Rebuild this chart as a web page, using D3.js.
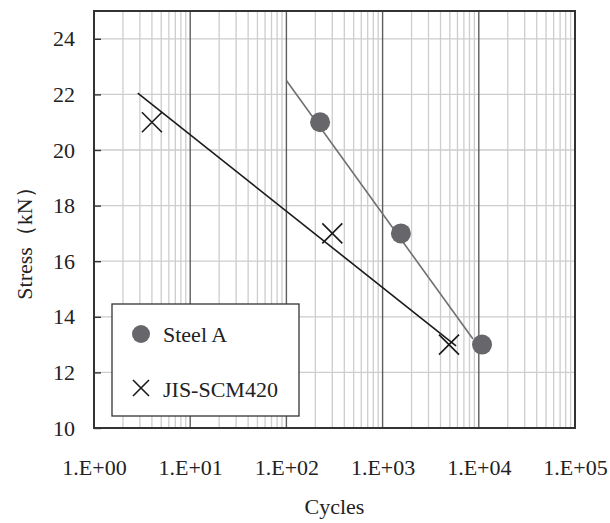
<!DOCTYPE html>
<html>
<head>
<meta charset="utf-8">
<script src="https://cdn.jsdelivr.net/npm/d3@7/dist/d3.min.js"></script>
<style>
  html, body { margin: 0; padding: 0; background: #fff; }
  svg text { font-family: "Liberation Serif", "Times New Roman", serif !important; }
</style>
</head>
<body>
<svg id="chart" width="610" height="523"></svg>
<script>
// S-N data (cycles to failure vs. applied stress)
const steelCycles = [224, 1550, 10800];
const steelStress = [21, 17, 13];
const scmCycles = [4, 300, 4900];
const scmStress = [21, 17, 13];

// Logarithmic trend lines (end points of each fit)
const steelFitCycles = [100, 8700];
const steelFitStress = [22.5, 13.2];
const scmFitCycles = [2.85, 5800];
const scmFitStress = [22.05, 12.95];

const xTickValues = [1, 10, 100, 1000, 10000, 100000];
const xTickLabels = ["1.E+00", "1.E+01", "1.E+02", "1.E+03", "1.E+04", "1.E+05"];
const yTickValues = [10, 12, 14, 16, 18, 20, 22, 24];

const seriesNames = ["Steel A", "JIS-SCM420"];

const margin = { left: 94, top: 11, right: 35, bottom: 95 };
const W = 610, H = 523;
const pw = W - margin.left - margin.right;
const ph = H - margin.top - margin.bottom;
const FS = 22;

const svg = d3.select("#chart");
const g = svg.append("g").attr("transform", `translate(${margin.left},${margin.top})`);

const x = d3.scaleLog().domain([1, 1e5]).range([0, pw]);
const y = d3.scaleLinear().domain([10, 25]).range([ph, 0]);

// minor vertical grid (2..9 within each decade)
const minor = [];
for (let d = 0; d < 5; d++) for (let k = 2; k <= 9; k++) minor.push(k * Math.pow(10, d));
g.append("g").selectAll("line").data(minor).join("line")
  .attr("x1", d => x(d)).attr("x2", d => x(d))
  .attr("y1", 0).attr("y2", ph)
  .attr("stroke", "#cdcdcd").attr("stroke-width", 1.3);

// horizontal grid
g.append("g").selectAll("line").data(yTickValues.filter(v => v > 10)).join("line")
  .attr("x1", 0).attr("x2", pw)
  .attr("y1", d => y(d)).attr("y2", d => y(d))
  .attr("stroke", "#cdcdcd").attr("stroke-width", 1.3);

// major vertical grid at decades
g.append("g").selectAll("line").data(xTickValues.slice(1, -1)).join("line")
  .attr("x1", d => x(d)).attr("x2", d => x(d))
  .attr("y1", 0).attr("y2", ph)
  .attr("stroke", "#5e5e5e").attr("stroke-width", 1.4);

// y axis with inward ticks
const yAxis = d3.axisLeft(y).tickValues(yTickValues).tickSize(-7).tickPadding(19).tickFormat(d3.format("d"));
const ya = g.append("g").call(yAxis);
ya.select(".domain").remove();
ya.selectAll(".tick line").attr("stroke", "#333").attr("stroke-width", 1.4);
ya.selectAll(".tick text").attr("font-size", FS).attr("fill", "#222");

// x axis labels (no tick marks)
const xAxis = d3.axisBottom(x).tickValues(xTickValues).tickSize(0).tickPadding(31)
  .tickFormat((d, i) => xTickLabels[i]);
const xa = g.append("g").attr("transform", `translate(0,${ph})`).call(xAxis);
xa.select(".domain").remove();
xa.selectAll(".tick text").attr("font-size", FS).attr("fill", "#222");

// plot frame
g.append("rect").attr("x", 0).attr("y", 0).attr("width", pw).attr("height", ph)
  .attr("fill", "none").attr("stroke", "#333").attr("stroke-width", 2);

// trend lines
const line = d3.line().x(d => x(d[0])).y(d => y(d[1]));
g.append("path").datum(steelFitCycles.map((c, i) => [c, steelFitStress[i]]))
  .attr("d", line).attr("fill", "none").attr("stroke", "#707070").attr("stroke-width", 1.6);
g.append("path").datum(scmFitCycles.map((c, i) => [c, scmFitStress[i]]))
  .attr("d", line).attr("fill", "none").attr("stroke", "#1a1a1a").attr("stroke-width", 1.6);

// markers
g.append("g").selectAll("circle").data(steelCycles.map((c, i) => [c, steelStress[i]])).join("circle")
  .attr("cx", d => x(d[0])).attr("cy", d => y(d[1])).attr("r", 10)
  .attr("fill", "#67676b");

const cross = (sel, s) => sel.append("path")
  .attr("d", `M${-s},${-s}L${s},${s}M${-s},${s}L${s},${-s}`)
  .attr("stroke", "#1a1a1a").attr("stroke-width", 1.6).attr("fill", "none");

g.append("g").selectAll("g").data(scmCycles.map((c, i) => [c, scmStress[i]])).join("g")
  .attr("transform", d => `translate(${x(d[0])},${y(d[1])})`)
  .each(function () { cross(d3.select(this), 10); });

// legend
const lg = svg.append("g").attr("transform", "translate(112,304)");
lg.append("rect").attr("width", 187).attr("height", 112)
  .attr("fill", "#fff").attr("stroke", "#333").attr("stroke-width", 1.3);
lg.append("circle").attr("cx", 29).attr("cy", 30).attr("r", 9).attr("fill", "#67676b");
cross(lg.append("g").attr("transform", "translate(29,84)"), 8);
lg.append("text").attr("x", 51).attr("y", 38).attr("font-size", FS).attr("fill", "#222").text(seriesNames[0]);
lg.append("text").attr("x", 51).attr("y", 93).attr("font-size", FS).attr("fill", "#222").text(seriesNames[1]);

// axis titles
svg.append("text").attr("x", margin.left + pw / 2).attr("y", 514)
  .attr("text-anchor", "middle").attr("font-size", FS).attr("fill", "#222").text("Cycles");
svg.append("text").attr("transform", "translate(32,238) rotate(-90)")
  .attr("text-anchor", "middle").attr("font-size", FS).attr("fill", "#222").text("Stress（kN）");
</script>
</body>
</html>
